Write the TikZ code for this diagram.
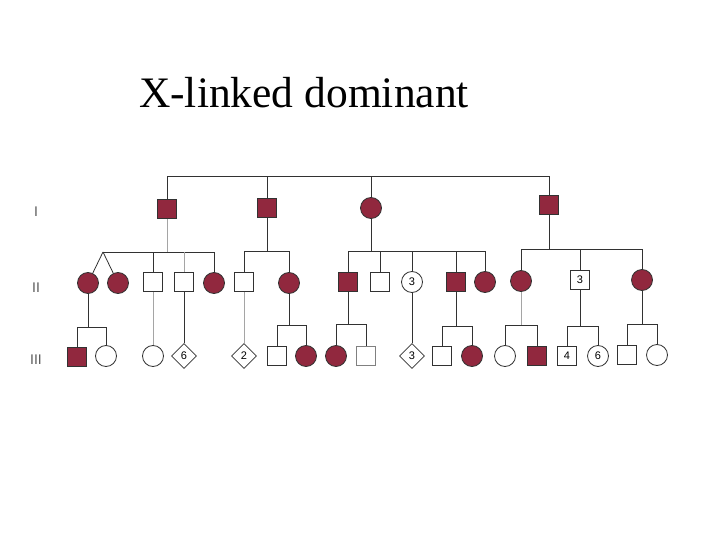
\documentclass[tikz,border=0pt]{standalone}
\usepackage{fontspec}
\setmainfont{Liberation Serif}
\newfontfamily\lblfont{Liberation Sans}
\usetikzlibrary{shapes.geometric}
\definecolor{ped}{RGB}{145,40,62}
\definecolor{ln}{RGB}{50,50,50}
\definecolor{lnf}{RGB}{165,165,165}
\tikzset{
  sq/.style={draw=ln, line width=0.8pt, minimum size=19pt, inner sep=0pt, fill=white, font=\lblfont\fontsize{11}{11}\selectfont},
  ci/.style={circle, draw=ln, line width=0.8pt, minimum size=21pt, inner sep=0pt, fill=white, font=\lblfont\fontsize{11}{11}\selectfont},
  di/.style={diamond, draw=ln, line width=0.8pt, minimum size=25pt, inner sep=0pt, fill=white, font=\lblfont\fontsize{11}{11}\selectfont},
  aff/.style={fill=ped, draw=ln},
  conn/.style={draw=ln, line width=0.8pt},
  faint/.style={draw=lnf, line width=0.8pt},
  gen/.style={font=\lblfont\fontsize{14}{14}\selectfont, text=black!65}
}
\begin{document}
\begin{tikzpicture}[x=1pt,y=-1pt]
\useasboundingbox (0,0) rectangle (720,540);
% title
\node[font=\fontsize{43.5}{43.5}\selectfont, anchor=base] (title) at (304,108) {X-linked dominant};
% generation labels
\node[gen] (gI) at (36,212) {I};
\node[gen] (gII) at (36,288) {II};
\node[gen] (gIII) at (36,360) {III};
% generation I
\coordinate (top) at (0,176);
\node[sq,aff] (i1) at (167,209) {};
\node[sq,aff] (i2) at (267,208) {};
\node[ci,aff] (i3) at (371,208) {};
\node[sq,aff] (i4) at (549,205) {};
\draw[conn] (i1) -- (i1 |- top) -- (i4 |- top) -- (i4);
\draw[conn] (i2) -- (i2 |- top);
\draw[conn] (i3) -- (i3 |- top);
% generation II
\node[ci,aff] (ii1) at (88,283) {};
\node[ci,aff] (ii2) at (118,283) {};
\node[sq] (ii3) at (153,282) {};
\node[sq] (ii4) at (184,282) {};
\node[ci,aff] (ii5) at (214,283) {};
\node[sq] (ii6) at (244,282) {};
\node[ci,aff] (ii7) at (289,283) {};
\node[sq,aff] (ii8) at (348,282) {};
\node[sq] (ii9) at (380,282) {};
\node[ci] (ii10) at (412,282) {3};
\node[sq,aff] (ii11) at (456,282) {};
\node[ci,aff] (ii12) at (485,282) {};
\node[ci,aff] (ii13) at (521,281) {};
\node[sq] (ii14) at (580,280) {3};
\node[ci,aff] (ii15) at (642,280) {};
% sibship I-1
\coordinate (s1) at (0,252);
\coordinate (tw) at (103,252);
\draw[faint] (i1) -- (i1 |- s1);
\draw[conn] (tw) -- (ii5 |- s1) -- (ii5);
\draw[conn] (tw) -- (ii1);
\draw[conn] (tw) -- (ii2);
\draw[conn] (ii3) -- (ii3 |- s1);
\draw[faint] (ii4) -- (ii4 |- s1);
% sibship I-2
\coordinate (s2) at (0,251);
\draw[conn] (i2) -- (i2 |- s2);
\draw[conn] (ii6) -- (ii6 |- s2) -- (ii7 |- s2) -- (ii7);
% sibship I-3
\coordinate (s3) at (0,251);
\draw[conn] (i3) -- (i3 |- s3);
\draw[conn] (ii8) -- (ii8 |- s3) -- (ii12 |- s3) -- (ii12);
\draw[conn] (ii9) -- (ii9 |- s3);
\draw[conn] (ii10) -- (ii10 |- s3);
\draw[conn] (ii11) -- (ii11 |- s3);
% sibship I-4
\coordinate (s4) at (0,249);
\draw[conn] (i4) -- (i4 |- s4);
\draw[conn] (ii13) -- (ii13 |- s4) -- (ii15 |- s4) -- (ii15);
\draw[conn] (ii14) -- (ii14 |- s4);
% generation III
\node[sq,aff] (iii1) at (77,357) {};
\node[ci] (iii2) at (106,356) {};
\node[ci] (iii3) at (153,356) {};
\node[di] (iii4) at (184,356) {6};
\node[di] (iii5) at (244,356) {2};
\node[sq] (iii6) at (277,356) {};
\node[ci,aff] (iii7) at (306,356) {};
\node[ci,aff] (iii8) at (336,356) {};
\node[sq,draw=black!50] (iii9) at (366,356) {};
\node[di] (iii10) at (412,356) {3};
\node[sq] (iii11) at (442,356) {};
\node[ci,aff] (iii12) at (472,356) {};
\node[ci] (iii13) at (505,356) {};
\node[sq,aff] (iii14) at (537,356) {};
\node[sq] (iii15) at (567,356) {4};
\node[ci] (iii16) at (598,356) {6};
\node[sq] (iii17) at (627,355) {};
\node[ci] (iii18) at (657,355) {};
% sibships gen III
\coordinate (t1) at (0,327);
\draw[conn] (ii1) -- (ii1 |- t1);
\draw[conn] (iii1) -- (iii1 |- t1) -- (iii2 |- t1) -- (iii2);
\draw[faint] (ii3) -- (iii3);
\draw[conn] (ii4) -- (iii4);
\draw[faint] (ii6) -- (iii5);
\coordinate (t2) at (0,325);
\draw[conn] (ii7) -- (ii7 |- t2);
\draw[conn] (iii6) -- (iii6 |- t2) -- (iii7 |- t2) -- (iii7);
\coordinate (t3) at (0,324);
\draw[conn] (ii8) -- (ii8 |- t3);
\draw[conn] (iii8) -- (iii8 |- t3) -- (iii9 |- t3) -- (iii9);
\draw[conn] (ii10) -- (iii10);
\coordinate (t4) at (0,326);
\draw[conn] (ii11) -- (ii11 |- t4);
\draw[conn] (iii11) -- (iii11 |- t4) -- (iii12 |- t4) -- (iii12);
\coordinate (t5) at (0,325);
\draw[faint] (ii13) -- (ii13 |- t5);
\draw[conn] (iii13) -- (iii13 |- t5) -- (iii14 |- t5) -- (iii14);
\coordinate (t6) at (0,326);
\draw[conn] (ii14) -- (ii14 |- t6);
\draw[conn] (iii15) -- (iii15 |- t6) -- (iii16 |- t6) -- (iii16);
\coordinate (t7) at (0,324);
\draw[conn] (ii15) -- (ii15 |- t7);
\draw[conn] (iii17) -- (iii17 |- t7) -- (iii18 |- t7) -- (iii18);
\end{tikzpicture}
\end{document}
